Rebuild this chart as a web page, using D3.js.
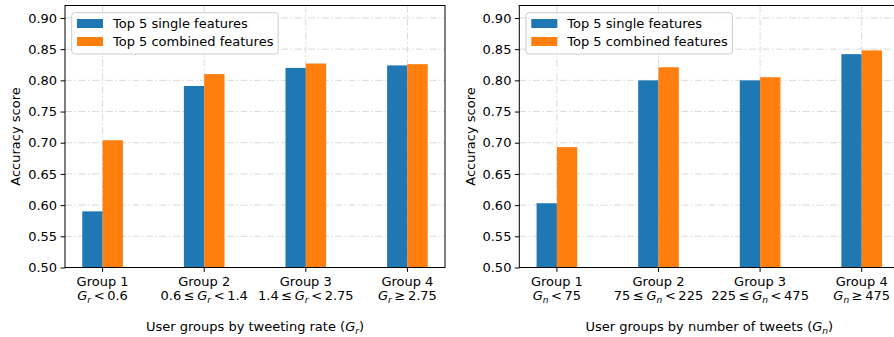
<!DOCTYPE html>
<html>
<head>
<meta charset="utf-8">
<script src="https://cdn.jsdelivr.net/npm/d3@7"></script>
<style>
  body { margin: 0; background: #fff; }
  svg { display: block; font-family: 'DejaVu Sans', sans-serif; }
</style>
</head>
<body>
<svg id="chart" width="894" height="337"></svg>
<script>
let groups = ['Group 1', 'Group 2', 'Group 3', 'Group 4']
let seriesNames = ['Top 5 single features', 'Top 5 combined features']

// second line of each tick label: text before, symbol subscript, text after
// (thin spaces around the relations, like mathtext)
let rateRanges = [
  ['', 'r', '\u2009<\u20090.6'],
  ['0.6\u2009≤\u2009', 'r', '\u2009<\u20091.4'],
  ['1.4\u2009≤\u2009', 'r', '\u2009<\u20092.75'],
  ['', 'r', '\u2009≥\u20092.75']
]
let tweetRanges = [
  ['', 'n', '\u2009<\u200975'],
  ['75\u2009≤\u2009', 'n', '\u2009<\u2009225'],
  ['225\u2009≤\u2009', 'n', '\u2009<\u2009475'],
  ['', 'n', '\u2009≥\u2009475']
]

let rateSingle = [0.590, 0.791, 0.820, 0.824]
let rateCombined = [0.704, 0.810, 0.827, 0.826]
let tweetSingle = [0.603, 0.800, 0.800, 0.842]
let tweetCombined = [0.693, 0.821, 0.805, 0.848]

let yTicks = [0.50, 0.55, 0.60, 0.65, 0.70, 0.75, 0.80, 0.85, 0.90]

let colors = ['#1f77b4', '#ff7f0e']
let fontSize = 13

let svg = d3.select('#chart')

let panels = [
  { left: 65, title: ['User groups by tweeting rate (', 'r', ')'], ranges: rateRanges, series: [rateSingle, rateCombined], ylabelX: 15.5 },
  { left: 519.3, title: ['User groups by number of tweets (', 'n', ')'], ranges: tweetRanges, series: [tweetSingle, tweetCombined], ylabelX: 470 }
]

let plotTop = 5.5
let plotBottom = 267.5
let plotWidth = 380
let barWidth = 0.2

// writes text + italic G with subscript + text
function mathLine(textEl, parts) {
  textEl.append('tspan').text(parts[0])
  textEl.append('tspan').attr('font-style', 'italic').text('G')
  textEl.append('tspan').attr('font-style', 'italic')
    .attr('font-size', fontSize * 0.7).attr('dy', 3).text(parts[1])
  textEl.append('tspan').attr('dy', -3).text(parts[2])
}

panels.forEach(p => {
  let x = d3.scaleLinear()
    .domain([-barWidth - 0.17, groups.length - 1 + barWidth + 0.17])
    .range([p.left, p.left + plotWidth])
  let y = d3.scaleLinear().domain([0.5, 0.92]).range([plotBottom, plotTop])

  let g = svg.append('g')

  // grid
  g.selectAll('.hgrid')
    .data(yTicks)
    .enter()
    .append('line')
    .attr('x1', p.left).attr('x2', p.left + plotWidth)
    .attr('y1', d => y(d)).attr('y2', d => y(d))
    .attr('stroke', '#dadada').attr('stroke-width', 1)
    .attr('stroke-dasharray', '7,2.5,1.5,2.5')
  g.selectAll('.vgrid')
    .data(groups)
    .enter()
    .append('line')
    .attr('x1', (d, i) => x(i)).attr('x2', (d, i) => x(i))
    .attr('y1', plotTop).attr('y2', plotBottom)
    .attr('stroke', '#dadada').attr('stroke-width', 1)
    .attr('stroke-dasharray', '7,2.5,1.5,2.5')

  // bars
  p.series.forEach((vals, s) => {
    g.selectAll('.bar' + s)
      .data(vals)
      .enter()
      .append('rect')
      .attr('x', (d, i) => x(i + (s - 1) * barWidth))
      .attr('width', x(barWidth) - x(0))
      .attr('y', d => y(d))
      .attr('height', d => y(0.5) - y(d))
      .attr('fill', colors[s])
  })

  // spines
  g.append('rect')
    .attr('x', p.left).attr('y', plotTop)
    .attr('width', plotWidth).attr('height', plotBottom - plotTop)
    .attr('fill', 'none').attr('stroke', '#000').attr('stroke-width', 1)

  // y axis
  let yAxis = d3.axisLeft(y).tickValues(yTicks).tickFormat(d3.format('.2f'))
    .tickSize(4.4).tickPadding(3.5)
  let ya = g.append('g').attr('transform', `translate(${p.left},0)`).call(yAxis)
  ya.select('.domain').remove()
  ya.selectAll('text').attr('font-size', fontSize).attr('font-family', 'DejaVu Sans').attr('fill', '#000')

  // x ticks
  g.selectAll('.xtick')
    .data(groups)
    .enter()
    .append('line')
    .attr('x1', (d, i) => x(i)).attr('x2', (d, i) => x(i))
    .attr('y1', plotBottom).attr('y2', plotBottom + 4.4)
    .attr('stroke', '#000')

  groups.forEach((name, i) => {
    g.append('text')
      .attr('x', x(i)).attr('y', 286)
      .attr('text-anchor', 'middle').attr('font-size', fontSize)
      .text(name)
    let t = g.append('text')
      .attr('x', x(i)).attr('y', 300)
      .attr('text-anchor', 'middle').attr('font-size', fontSize)
    mathLine(t, p.ranges[i])
  })

  // axis titles
  let xt = g.append('text')
    .attr('x', p.left + plotWidth / 2).attr('y', 331)
    .attr('text-anchor', 'middle').attr('font-size', fontSize)
  mathLine(xt, p.title)

  g.append('text')
    .attr('transform', `translate(${p.ylabelX + 4.5},${(plotTop + plotBottom) / 2}) rotate(-90)`)
    .attr('text-anchor', 'middle').attr('font-size', fontSize)
    .text('Accuracy score')

  // legend
  let lg = g.append('g').attr('transform', `translate(${p.left + 6.7},12.7)`)
  lg.append('rect')
    .attr('width', 206.5).attr('height', 41.3).attr('rx', 3)
    .attr('fill', '#fff').attr('fill-opacity', 0.8)
    .attr('stroke', '#ccc').attr('stroke-width', 1)
  seriesNames.forEach((name, s) => {
    lg.append('rect')
      .attr('x', 5.3).attr('y', 6.3 + s * 18)
      .attr('width', 26).attr('height', 9)
      .attr('fill', colors[s])
    lg.append('text')
      .attr('x', 41.3).attr('y', 15 + s * 18)
      .attr('font-size', fontSize)
      .text(name)
  })
})
</script>
</body>
</html>
